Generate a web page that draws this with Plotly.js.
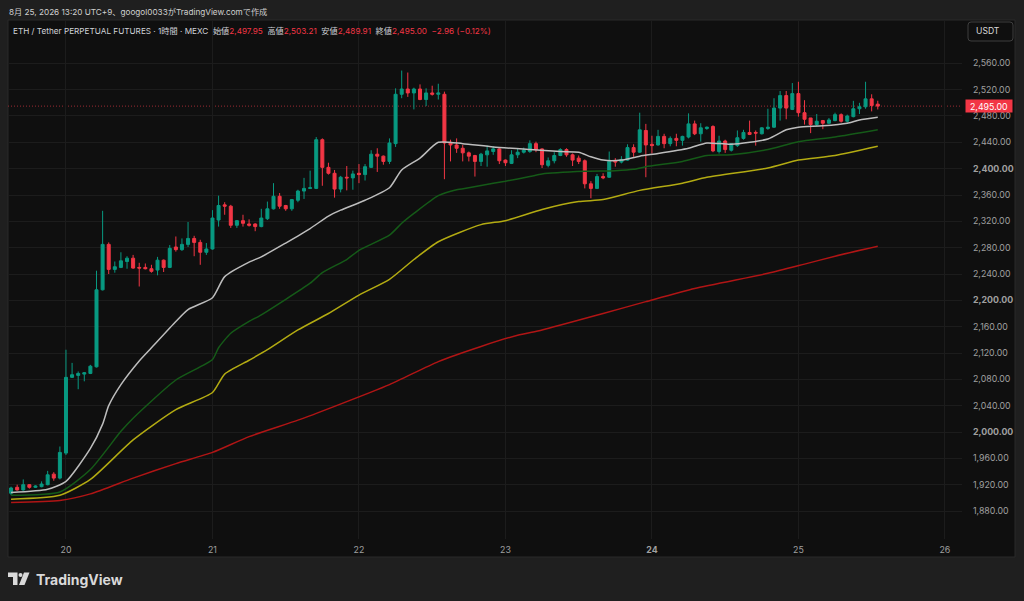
<!DOCTYPE html>
<html>
<head>
<meta charset="utf-8">
<script src="https://cdn.plot.ly/plotly-3.0.1.min.js"></script>
<style>
html,body{margin:0;padding:0;background:#1f1f1f;}
#chart{width:1024px;height:601px;}
</style>
</head>
<body>
<div id="chart"></div>
<script>
// ---- Candle data (1h, ETH/USDT perpetual, MEXC) ----
const startTime = '2026-08-19 15:00';
const opens = [1907,1916,1912,1920,1916,1917,1920,1936,1930,1968,2083,2086,2088,2089,2099,2216,2285,2247,2250,2259,2264,2250,2250,2248,2246,2261,2250,2281,2277,2285,2294,2288,2273,2278,2322,2345,2343,2314,2321,2316,2316,2312,2324,2339,2358,2344,2339,2352,2366,2370,2370,2444,2402,2393,2369,2387,2386,2393,2391,2402,2422,2419,2411,2438,2513,2521,2515,2521,2505,2515,2513,2513,2440,2436,2431,2424,2420,2411,2421,2426,2430,2413,2408,2421,2425,2426,2438,2430,2405,2412,2420,2429,2421,2416,2412,2377,2370,2388,2387,2412,2410,2413,2432,2425,2458,2437,2436,2449,2438,2446,2443,2448,2468,2453,2461,2464,2426,2442,2428,2435,2446,2455,2455,2453,2461,2463,2492,2511,2490,2514,2485,2477,2467,2473,2469,2473,2482,2472,2479,2491,2494,2506,2497.95];
const highs = [1917,1920,1928,1921,1919,1925,1941,1939,1978,2125,2105,2092,2091,2102,2245,2336,2288,2259,2273,2267,2269,2257,2256,2254,2266,2262,2284,2297,2294,2319,2298,2292,2287,2337,2359,2349,2345,2322,2330,2323,2317,2339,2350,2378,2363,2345,2354,2368,2386,2397,2448,2446,2409,2398,2389,2404,2397,2407,2407,2428,2431,2420,2446,2522,2549,2546,2523,2528,2522,2526,2529,2517,2444,2446,2436,2426,2421,2424,2435,2434,2431,2414,2428,2430,2432,2443,2441,2431,2417,2425,2431,2431,2423,2420,2414,2381,2392,2393,2426,2416,2419,2437,2437,2485,2468,2450,2459,2453,2449,2453,2450,2484,2473,2469,2464,2466,2450,2444,2439,2458,2459,2473,2458,2463,2491,2507,2518,2518,2530,2532,2504,2477,2483,2474,2477,2485,2484,2482,2503,2500,2532,2513,2503.21];
const lows = [1904,1911,1911,1914,1915,1916,1919,1926,1928,1965,2082,2065,2077,2088,2098,2215,2240,2242,2249,2248,2248,2221,2247,2242,2238,2243,2249,2274,2275,2281,2267,2254,2269,2277,2312,2330,2310,2310,2312,2312,2305,2311,2322,2338,2339,2336,2336,2349,2354,2369,2369,2374,2391,2356,2364,2367,2368,2378,2382,2401,2395,2406,2407,2433,2507,2509,2490,2504,2495,2511,2505,2384,2411,2424,2411,2411,2388,2404,2403,2421,2407,2404,2407,2416,2423,2424,2425,2401,2402,2408,2419,2418,2404,2407,2370,2355,2369,2384,2386,2403,2408,2412,2418,2424,2387,2423,2435,2431,2434,2434,2435,2446,2451,2441,2459,2425,2423,2424,2426,2433,2444,2451,2435,2452,2459,2462,2473,2475,2489,2479,2467,2454,2465,2460,2468,2472,2470,2470,2478,2483,2491,2487,2489.91];
const closes = [1915,1912,1920,1916,1918,1921,1935,1930,1969,2083,2087,2089,2090,2100,2216,2285,2247,2251,2260,2264,2249,2249,2248,2244,2261,2250,2279,2277,2285,2294,2288,2273,2278,2325,2344,2343,2314,2321,2317,2314,2312,2325,2339,2358,2343,2339,2353,2366,2370,2371,2444,2402,2393,2369,2387,2386,2392,2391,2403,2422,2419,2411,2439,2513,2521,2515,2521,2505,2515,2513,2515,2439,2436,2431,2424,2419,2411,2422,2427,2430,2412,2409,2421,2425,2428,2438,2429,2406,2412,2420,2429,2421,2413,2411,2377,2370,2388,2386,2411,2410,2414,2432,2425,2459,2436,2435,2449,2438,2446,2443,2449,2468,2453,2462,2463,2427,2442,2429,2438,2447,2455,2452,2454,2462,2463,2492,2511,2492,2514,2485,2475,2467,2472,2469,2474,2482,2472,2480,2491,2494,2506,2496,2495.00];

// ---- Moving averages (read at sample times) ----
const maWhiteTimes = ['2026-08-19 15:00','2026-08-19 21:00','2026-08-20 00:00','2026-08-20 04:00','2026-08-20 06:00','2026-08-20 07:00','2026-08-20 09:00','2026-08-20 12:00','2026-08-20 14:00','2026-08-20 18:00','2026-08-20 20:00','2026-08-21 00:00','2026-08-21 02:00','2026-08-21 06:00','2026-08-21 08:00','2026-08-21 12:00','2026-08-21 16:00','2026-08-21 19:00','2026-08-21 21:00','2026-08-22 01:00','2026-08-22 05:00','2026-08-22 07:00','2026-08-22 10:00','2026-08-22 13:00','2026-08-22 17:00','2026-08-22 22:00','2026-08-23 04:00','2026-08-23 09:00','2026-08-23 12:00','2026-08-23 14:00','2026-08-23 16:00','2026-08-23 19:00','2026-08-23 22:00','2026-08-24 01:00','2026-08-24 06:00','2026-08-24 09:00','2026-08-24 13:00','2026-08-24 19:00','2026-08-24 22:00','2026-08-25 00:00','2026-08-25 04:00','2026-08-25 08:00','2026-08-25 10:00','2026-08-25 13:00'];
const maWhite = [1908,1913,1925,1975,2012,2040,2072,2108,2128,2168,2186,2204,2236,2258,2266,2287,2309,2328,2337,2352,2371,2398,2416,2440,2438,2433,2429,2426,2425,2418,2413,2413,2419,2423,2431,2439,2437,2445,2459,2463,2465,2469,2474,2478];

const maGreenTimes = ['2026-08-19 15:00','2026-08-19 23:00','2026-08-20 04:00','2026-08-20 09:00','2026-08-20 11:00','2026-08-20 18:00','2026-08-21 00:00','2026-08-21 01:00','2026-08-21 03:00','2026-08-21 06:00','2026-08-21 08:00','2026-08-21 16:00','2026-08-21 18:00','2026-08-21 22:00','2026-08-22 00:00','2026-08-22 05:00','2026-08-22 07:00','2026-08-22 09:00','2026-08-22 13:00','2026-08-22 16:00','2026-08-22 18:00','2026-08-22 22:00','2026-08-23 00:00','2026-08-23 04:00','2026-08-23 06:00','2026-08-23 13:00','2026-08-23 18:00','2026-08-23 21:00','2026-08-23 23:00','2026-08-24 05:00','2026-08-24 09:00','2026-08-24 13:00','2026-08-24 19:00','2026-08-25 00:00','2026-08-25 06:00','2026-08-25 13:00'];
const maGreen = [1904,1909,1943,2001,2021,2079,2110,2128,2150,2168,2178,2226,2242,2262,2276,2299,2317,2332,2359,2368,2371,2378,2381,2388,2392,2396,2397,2399,2403,2411,2420,2421,2429,2441,2448,2459];

const maYellowTimes = ['2026-08-19 15:00','2026-08-19 23:00','2026-08-20 04:00','2026-08-20 11:00','2026-08-20 18:00','2026-08-21 00:00','2026-08-21 02:00','2026-08-21 06:00','2026-08-21 09:00','2026-08-21 14:00','2026-08-21 19:00','2026-08-22 00:00','2026-08-22 05:00','2026-08-22 09:00','2026-08-22 13:00','2026-08-22 20:00','2026-08-23 00:00','2026-08-23 06:00','2026-08-23 12:00','2026-08-23 16:00','2026-08-23 22:00','2026-08-24 05:00','2026-08-24 09:00','2026-08-24 19:00','2026-08-25 00:00','2026-08-25 06:00','2026-08-25 13:00'];
const maYellow = [1898,1904,1928,1988,2034,2060,2088,2109,2125,2155,2180,2208,2232,2262,2289,2315,2321,2338,2350,2353,2367,2378,2387,2401,2413,2420,2434];

const maRedTimes = ['2026-08-19 15:00','2026-08-19 23:00','2026-08-20 04:00','2026-08-20 11:00','2026-08-20 18:00','2026-08-21 00:00','2026-08-21 06:00','2026-08-21 14:00','2026-08-21 20:00','2026-08-22 05:00','2026-08-22 13:00','2026-08-22 20:00','2026-08-23 02:00','2026-08-23 06:00','2026-08-23 16:00','2026-08-23 23:00','2026-08-24 07:00','2026-08-24 19:00','2026-08-25 01:00','2026-08-25 06:00','2026-08-25 13:00'];
const maRed = [1893,1896,1906,1930,1952,1969,1993,2018,2039,2072,2107,2130,2147,2155,2180,2198,2218,2241,2255,2267,2282];

// ---- Axis ticks ----
const yTickVals = [1880,1920,1960,2000,2040,2080,2120,2160,2200,2240,2280,2320,2360,2400,2440,2480,2520,2560];
const yTickText = ['1,880.00','1,920.00','1,960.00','<b>2,000.00</b>','2,040.00','2,080.00','2,120.00','2,160.00','<b>2,200.00</b>','2,240.00','2,280.00','2,320.00','2,360.00','<b>2,400.00</b>','2,440.00','2,480.00','2,520.00','2,560.00'];
const xTickVals = ['2026-08-20','2026-08-21','2026-08-22','2026-08-23','2026-08-24','2026-08-25','2026-08-26'];
const xTickText = ['20','21','22','23','<b>24</b>','25','26'];
const lastPrice = 2495.00;

// build hourly timestamps
const times = [];
{
  const p = startTime.split(/[- :]/).map(Number);
  const t0 = Date.UTC(p[0], p[1]-1, p[2], p[3], p[4]);
  for (let i = 0; i < opens.length; i++) {
    const d = new Date(t0 + i*3600000);
    times.push(d.toISOString().slice(0,16).replace('T',' '));
  }
}

// pixel -> paper helpers (plot area: x 8..962, y 20..539)
const L = 8, R = 962, T = 20, B = 539;
const PX = x => (x - L) / (R - L);
const PY = y => (B - y) / (B - T);

const FONT = 'Inter, "Noto Sans CJK JP", sans-serif';
const UP = '#089981', DN = '#f23645';

const traces = [
  {type:'scatter', mode:'lines', x:maRedTimes, y:maRed, line:{color:'#b01515', width:1.5, shape:'spline', smoothing:0.6}, hoverinfo:'skip'},
  {type:'scatter', mode:'lines', x:maYellowTimes, y:maYellow, line:{color:'#b3ab12', width:1.5, shape:'spline', smoothing:0.6}, hoverinfo:'skip'},
  {type:'scatter', mode:'lines', x:maGreenTimes, y:maGreen, line:{color:'#155a18', width:1.5, shape:'spline', smoothing:0.6}, hoverinfo:'skip'},
  {type:'scatter', mode:'lines', x:maWhiteTimes, y:maWhite, line:{color:'#bdbdbd', width:1.5, shape:'spline', smoothing:0.6}, hoverinfo:'skip'},
  {type:'candlestick', x:times, open:opens, high:highs, low:lows, close:closes,
   increasing:{line:{color:UP, width:1}, fillcolor:UP},
   decreasing:{line:{color:DN, width:1}, fillcolor:DN},
   whiskerwidth:0, hoverinfo:'skip'}
];

const sp = '&nbsp;';
const red = s => '<span style="color:#f23645">' + s + '</span>';
const header2 = 'ETH / Tether PERPETUAL FUTURES · 1時間 · MEXC' + sp + sp +
  '始値' + red('2,497.95') + sp + sp + '高値' + red('2,503.21') + sp + sp +
  '安値' + red('2,489.91') + sp + sp + '終値' + red('2,495.00') + sp + sp + red('−2.96 (−0.12%)');

const TICKSIZE = 8.8;

const layout = {
  width:1024, height:601,
  margin:{l:L, r:1024-R, t:T, b:601-B, pad:0},
  paper_bgcolor:'#1f1f1f',
  plot_bgcolor:'rgba(0,0,0,0)',
  showlegend:false,
  boxgap:0.3,
  font:{family:FONT, color:'#a3a3a3', size:TICKSIZE},
  xaxis:{
    type:'date',
    range:['2026-08-19 14:30','2026-08-26 02:48'],
    rangeslider:{visible:false},
    tickvals:xTickVals, ticktext:xTickText,
    showgrid:true, gridcolor:'#1c1c1c', gridwidth:1,
    zeroline:false, showline:false, ticks:'',
    tickfont:{family:FONT, size:TICKSIZE, color:'#a0a0a0'},
    ticklabelstandoff:4,
    fixedrange:true
  },
  yaxis:{
    side:'right',
    range:[1837.5, 2625.8],
    tickvals:yTickVals, ticktext:yTickText,
    showgrid:true, gridcolor:'#1c1c1c', gridwidth:1,
    zeroline:false, showline:false, ticks:'',
    tickfont:{family:FONT, size:TICKSIZE, color:'#a0a0a0'},
    ticklabelstandoff:10,
    fixedrange:true
  },
  shapes:[
    // chart panel
    {type:'rect', xref:'paper', yref:'paper', x0:PX(8), x1:PX(1015), y0:PY(557), y1:PY(20),
     fillcolor:'#0f0f0f', line:{color:'#2b2b2b', width:1}, layer:'below'},
    // last price dotted line
    {type:'line', xref:'paper', yref:'y', x0:0, x1:1, y0:lastPrice, y1:lastPrice,
     line:{color:'#9c2b33', width:1, dash:'1px,2px'}, layer:'below'},
    // TradingView logo
    {type:'path', xref:'paper', yref:'paper',
     path:'M'+PX(8)+','+PY(572.5)+' L'+PX(17.5)+','+PY(572.5)+' L'+PX(17.5)+','+PY(585)+' L'+PX(13)+','+PY(585)+' L'+PX(13)+','+PY(577)+' L'+PX(8)+','+PY(577)+' Z',
     fillcolor:'#d9d9d9', line:{width:0}},
    {type:'circle', xref:'paper', yref:'paper', x0:PX(18.5), x1:PX(22.5), y0:PY(577), y1:PY(573),
     fillcolor:'#d9d9d9', line:{width:0}},
    {type:'path', xref:'paper', yref:'paper',
     path:'M'+PX(24)+','+PY(572.5)+' L'+PX(29.5)+','+PY(572.5)+' L'+PX(24.5)+','+PY(585)+' L'+PX(19)+','+PY(585)+' Z',
     fillcolor:'#d9d9d9', line:{width:0}},
    // USDT box (rounded)
    {type:'path', xref:'paper', yref:'paper',
     path:'M'+PX(971)+','+PY(22)+' L'+PX(1010)+','+PY(22)+' Q'+PX(1013)+','+PY(22)+' '+PX(1013)+','+PY(25)+
          ' L'+PX(1013)+','+PY(38)+' Q'+PX(1013)+','+PY(41)+' '+PX(1010)+','+PY(41)+
          ' L'+PX(971)+','+PY(41)+' Q'+PX(968)+','+PY(41)+' '+PX(968)+','+PY(38)+
          ' L'+PX(968)+','+PY(25)+' Q'+PX(968)+','+PY(22)+' '+PX(971)+','+PY(22)+' Z',
     fillcolor:'#0f0f0f', line:{color:'#3f3f3f', width:1}}
  ],
  annotations:[
    {xref:'paper', yref:'paper', x:PX(7), y:PY(12), xanchor:'left', yanchor:'middle', showarrow:false,
     text:'8月 25, 2026 13:20 UTC+9、googol0033がTradingView.comで作成',
     font:{family:FONT, size:8.2, color:'#cfcfcf'}},
    {xref:'paper', yref:'paper', x:PX(11), y:PY(31), xanchor:'left', yanchor:'middle', showarrow:false,
     text:header2, font:{family:FONT, size:8.2, color:'#cfd2d8'}},
    {xref:'paper', yref:'paper', x:PX(974), y:PY(31.5), xanchor:'left', yanchor:'middle', showarrow:false,
     text:'USDT', font:{family:FONT, size:8.6, color:'#dadada'}},
    {xref:'paper', yref:'y', x:PX(965), y:lastPrice, xanchor:'left', yanchor:'middle', showarrow:false,
     text:'2,495.00', width:46, height:12, bgcolor:'#f23645', borderpad:0,
     font:{family:FONT, size:TICKSIZE, color:'#ffffff'}},
    {xref:'paper', yref:'paper', x:PX(34), y:PY(579), xanchor:'left', yanchor:'middle', showarrow:false,
     text:'<b>TradingView</b>', font:{family:FONT, size:14, color:'#d9d9d9'}}
  ]
};

Plotly.newPlot('chart', traces, layout, {staticPlot:true, displayModeBar:false});
</script>
</body>
</html>
